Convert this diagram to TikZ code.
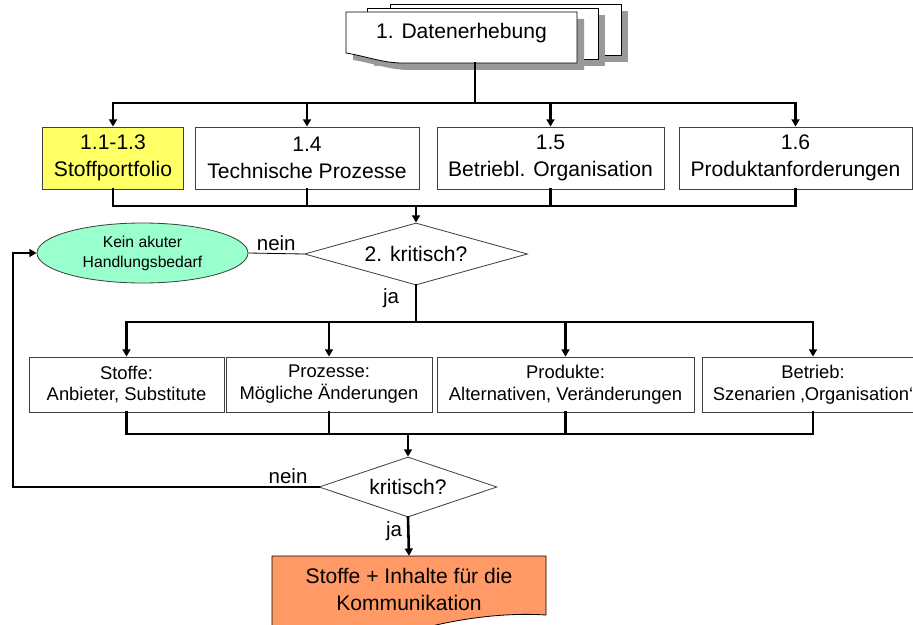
\documentclass[tikz,border=0pt]{standalone}
\usepackage{fontspec}
\setmainfont{Liberation Sans}
\usetikzlibrary{arrows.meta, shapes.geometric}
\definecolor{stoffGelb}{HTML}{FFFF66}
\definecolor{keinGruen}{HTML}{99FFCC}
\definecolor{kommOrange}{HTML}{FF9966}
\definecolor{schatten}{HTML}{999999}
\definecolor{rahmen}{HTML}{404040}

\begin{document}
\begin{tikzpicture}[x=0.3mm, y=-0.3mm,
    box/.style={rectangle, draw=rahmen, line width=0.7pt, fill=white,
                align=center, inner sep=0pt, minimum height=18.6mm,
                font=\fontsize{18}{23}\selectfont},
    option/.style={box, minimum height=16.5mm,
                   font=\fontsize{15.7}{18.7}\selectfont},
    decision/.style={diamond, draw=rahmen, line width=0.7pt, fill=white,
                     inner sep=0pt, font=\fontsize{18}{23}\selectfont},
    blatt/.style={draw=black, line width=0.7pt, fill=white},
    blattschatten/.style={fill=schatten},
    conn/.style={line width=2.2pt, black, line cap=rect},
    arr/.style={conn, -{Triangle[length=2.2mm, width=2.4mm]}},
    lbl/.style={font=\fontsize{17.5}{20}\selectfont, inner sep=2pt},
  ]
    \useasboundingbox (0,0) rectangle (913,624);
    \clip (0,0) rectangle (913,624);

    % Datenerhebung (Stapel)
    \foreach \dx/\dy in {44/8, 21/4} {
      \fill[blattschatten] (346+\dx+7,12-\dy+7) rectangle (577+\dx+7,63-\dy+7);
      \draw[blatt] (346+\dx,12-\dy) rectangle (577+\dx,63-\dy);
    }
    \fill[blattschatten, shift={(7,7)}] (346,12) -- (577,12) -- (577,63) -- (402,63)
      .. controls (383,63) and (365,56) .. (346,53) -- cycle;
    \draw[blatt] (346,12) -- (577,12) -- (577,63) -- (402,63)
      .. controls (383,63) and (365,56) .. (346,53) -- cycle;
    \node[minimum width=69.3mm, minimum height=18mm, inner sep=0pt,
          font=\fontsize{18}{23}\selectfont] (daten) at (461.5,33) {1. Datenerhebung};

    \coordinate (bus1) at (475,103);
    \draw[conn] (daten.south -| bus1) -- (bus1);

    % Zeile 1
    \node[box, fill=stoffGelb, minimum width=42.3mm] (s11) at (113,158) {1.1-1.3\\Stoffportfolio};
    \node[box, minimum width=67.2mm] (s14) at (307,158) {1.4\\Technische Prozesse};
    \node[box, minimum width=68.1mm] (s15) at (550.5,158) {1.5\\Betriebl. Organisation};
    \node[box, minimum width=69.9mm] (s16) at (795.5,158) {1.6\\Produktanforderungen};

    \draw[conn] (s11.north |- bus1) -- (s16.north |- bus1);
    \foreach \n in {s11,s14,s15,s16}
      \draw[arr] (\n.north |- bus1) -- (\n.north);

    \coordinate (join1) at (416,206);
    \foreach \n in {s11,s14,s15,s16}
      \draw[conn] (\n.south) -- (\n.south |- join1);
    \draw[conn] (s11.south |- join1) -- (s16.south |- join1);

    % Entscheidung 2
    \node[decision, aspect=3.6, minimum width=66.9mm, minimum height=18.6mm] (krit1) at (416,254) {2. kritisch?};
    \draw[arr] (join1) -- (krit1.north);

    \node[ellipse, draw=rahmen, line width=0.7pt, fill=keinGruen, minimum width=63.3mm,
          minimum height=18mm, inner sep=0pt, align=center,
          font=\fontsize{13.4}{17}\selectfont] (kein) at (142.5,253) {Kein akuter\\Handlungsbedarf};
    \draw[line width=0.7pt] (krit1.west) -- node[lbl, above] {nein} (kein.east);

    \coordinate (join2) at (416,322);
    \draw[conn] (krit1.south) -- node[lbl, left=4mm, pos=0.35] {ja} (join2);

    % Zeile 2
    \node[option, minimum width=58.5mm] (sa) at (126.5,384.5) {Stoffe:\\Anbieter, Substitute};
    \node[option, minimum width=61.8mm] (sb) at (329,384.5) {Prozesse:\\Mögliche Änderungen};
    \node[option, minimum width=77.1mm] (sc) at (565.5,384.5) {Produkte:\\Alternativen, Veränderungen};
    \node[option, minimum width=66.6mm] (sd) at (813,384.5) {Betrieb:\\Szenarien ‚Organisation‘};

    \draw[conn] (sa.north |- join2) -- (sd.north |- join2);
    \foreach \n in {sa,sb,sc,sd}
      \draw[arr] (\n.north |- join2) -- (\n.north);

    \coordinate (join3) at (408,434);
    \foreach \n in {sa,sb,sc,sd}
      \draw[conn] (\n.south) -- (\n.south |- join3);
    \draw[conn] (sa.south |- join3) -- (sd.south |- join3);

    % Entscheidung 3
    \node[decision, aspect=2.97, minimum width=53.4mm, minimum height=18mm] (krit2) at (408,487) {kritisch?};
    \draw[arr] (join3) -- (krit2.north);

    \coordinate (back) at (13,487);
    \draw[arr] (krit2.west) -- node[lbl, above, pos=0.1] {nein} (back) |- (kein.west);

    % Kommunikation
    \draw[blatt, fill=kommOrange] (272,556) -- (546,556) -- (546,615)
      .. controls (500,612) and (450,620) .. (409,632)
      .. controls (370,644) and (320,648) .. (272,640) -- cycle;
    \node[minimum width=82.2mm, minimum height=19.8mm, inner sep=0pt, align=center,
          font=\fontsize{18}{23}\selectfont] (komm) at (409,589) {Stoffe + Inhalte für die\\Kommunikation};
    \draw[arr] (krit2.south) -- node[lbl, left=0.8mm, pos=0.35] {ja} (komm.north);
\end{tikzpicture}
\end{document}
